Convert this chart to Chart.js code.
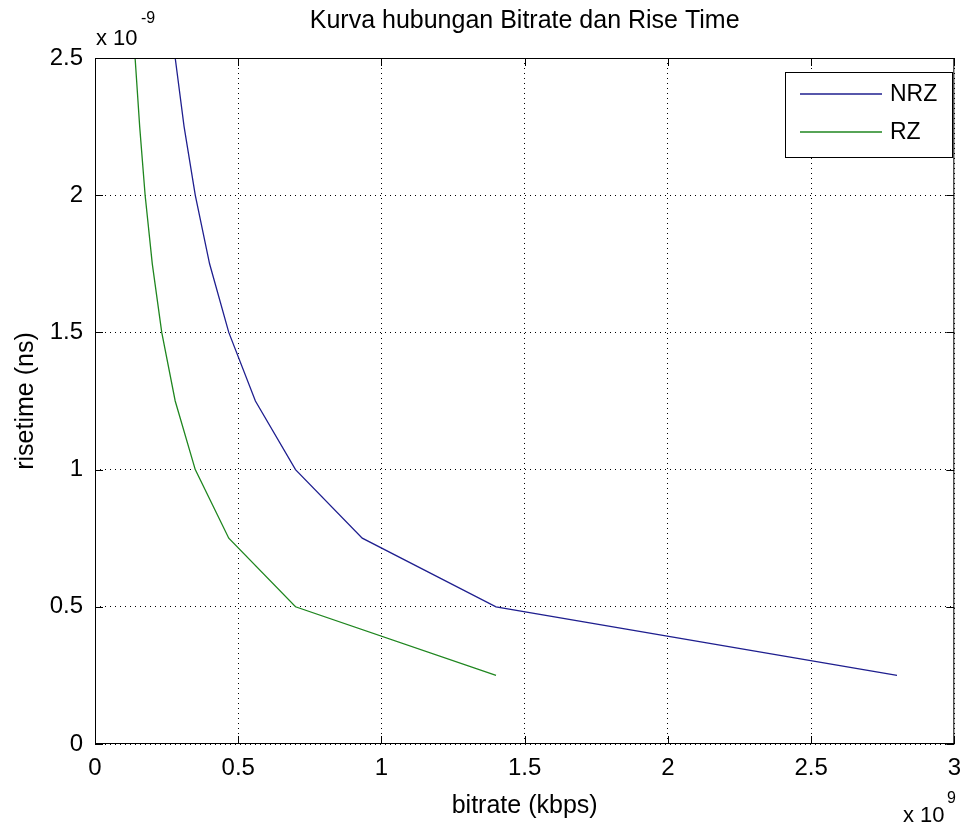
<!DOCTYPE html>
<html>
<head>
<meta charset="utf-8">
<script src="https://cdn.jsdelivr.net/npm/chart.js@4.4.0/dist/chart.umd.min.js"></script>
<style>
  html, body { margin: 0; padding: 0; background: #fff; }
  #wrap { width: 971px; height: 826px; }
</style>
</head>
<body>
<div id="wrap"><canvas id="c" width="971" height="826"></canvas></div>
<script>
// --- DATA (bitrate in x 10^9, risetime in x 10^-9) ---
const nrzBitrate = [2.8, 1.4, 0.933, 0.7, 0.56, 0.467, 0.4, 0.35, 0.311, 0.28];
const nrzRise    = [0.25, 0.5, 0.75, 1.0, 1.25, 1.5, 1.75, 2.0, 2.25, 2.5];
const rzBitrate  = [1.4, 0.7, 0.467, 0.35, 0.28, 0.233, 0.2, 0.175, 0.156, 0.14];
const rzRise     = [0.25, 0.5, 0.75, 1.0, 1.25, 1.5, 1.75, 2.0, 2.25, 2.5];
const xTicks = [0, 0.5, 1, 1.5, 2, 2.5, 3];
const yTicks = [0, 0.5, 1, 1.5, 2, 2.5];

const FONT = "'Liberation Sans', Arial, sans-serif";
const NRZ_COLOR = "#1f1f8f";
const RZ_COLOR = "#1f861f";

function pts(xs, ys) {
    return xs.map((x, i) => ({ x: x, y: ys[i] }));
}

// draws the matlab style frame, inside ticks, titles and legend
const matlabDecor = {
    id: "matlabDecor",
    afterDraw(chart) {
        const ctx = chart.ctx;
        const a = chart.chartArea;
        const xs = chart.scales.x;
        const ys = chart.scales.y;
        ctx.save();

        // frame
        ctx.strokeStyle = "#000";
        ctx.lineWidth = 1;
        ctx.setLineDash([]);
        ctx.strokeRect(a.left + 0.5, a.top + 0.5, a.right - a.left - 1, a.bottom - a.top - 1);

        // inside ticks
        const tl = 8;
        ctx.beginPath();
        xTicks.forEach(v => {
            const px = Math.round(xs.getPixelForValue(v)) + 0.5;
            ctx.moveTo(px, a.bottom); ctx.lineTo(px, a.bottom - tl);
            ctx.moveTo(px, a.top); ctx.lineTo(px, a.top + tl);
        });
        yTicks.forEach(v => {
            const py = Math.round(ys.getPixelForValue(v)) + 0.5;
            ctx.moveTo(a.left, py); ctx.lineTo(a.left + tl, py);
            ctx.moveTo(a.right, py); ctx.lineTo(a.right - tl, py);
        });
        ctx.stroke();

        ctx.fillStyle = "#000";
        // title
        ctx.font = "25px " + FONT;
        ctx.textAlign = "center";
        ctx.textBaseline = "alphabetic";
        ctx.fillText("Kurva hubungan Bitrate dan Rise Time", (a.left + a.right) / 2, 28);

        // axis titles
        ctx.fillText("bitrate (kbps)", (a.left + a.right) / 2, 813);
        ctx.save();
        ctx.translate(33, (a.top + a.bottom) / 2);
        ctx.rotate(-Math.PI / 2);
        ctx.fillText("risetime (ns)", 0, 0);
        ctx.restore();

        // exponent labels
        ctx.textAlign = "left";
        ctx.font = "22px " + FONT;
        ctx.fillText("x 10", 96, 45);
        ctx.font = "16px " + FONT;
        ctx.fillText("-9", 141, 23);
        ctx.font = "22px " + FONT;
        ctx.fillText("x 10", 903, 822);
        ctx.font = "16px " + FONT;
        ctx.fillText("9", 947, 803);

        // legend
        const lx = 785, ly = 72, lw = 167, lh = 85;
        ctx.fillStyle = "#fff";
        ctx.fillRect(lx, ly, lw, lh);
        ctx.strokeStyle = "#000";
        ctx.strokeRect(lx + 0.5, ly + 0.5, lw, lh);
        const items = [["NRZ", NRZ_COLOR, 94], ["RZ", RZ_COLOR, 132]];
        items.forEach(it => {
            ctx.strokeStyle = it[1];
            ctx.lineWidth = 1.3;
            ctx.beginPath();
            ctx.moveTo(800, it[2]); ctx.lineTo(882, it[2]);
            ctx.stroke();
            ctx.fillStyle = "#000";
            ctx.font = "23px " + FONT;
            ctx.textBaseline = "middle";
            ctx.fillText(it[0], 890, it[2] + 1);
        });
        ctx.restore();
    }
};

const ctx = document.getElementById("c").getContext("2d");
new Chart(ctx, {
    type: "scatter",
    data: {
        datasets: [
            {
                label: "NRZ",
                data: pts(nrzBitrate, nrzRise),
                showLine: true,
                borderColor: NRZ_COLOR,
                borderWidth: 1.3,
                pointRadius: 0,
                tension: 0
            },
            {
                label: "RZ",
                data: pts(rzBitrate, rzRise),
                showLine: true,
                borderColor: RZ_COLOR,
                borderWidth: 1.3,
                pointRadius: 0,
                tension: 0
            }
        ]
    },
    options: {
        responsive: false,
        animation: false,
        clip: 0,
        layout: { padding: { left: 0, top: 58, right: 7, bottom: 0 } },
        plugins: {
            legend: { display: false },
            tooltip: { enabled: false },
            title: { display: false }
        },
        scales: {
            x: {
                type: "linear",
                min: 0, max: 3,
                afterBuildTicks: s => { s.ticks = xTicks.map(v => ({ value: v })); },
                afterFit: s => { s.height = 82; },
                border: { display: false, dash: [1, 4] },
                grid: { color: "#000", lineWidth: 1, drawTicks: false },
                ticks: {
                    padding: 10,
                    color: "#000",
                    font: { family: FONT, size: 24 },
                    callback: v => String(v)
                }
            },
            y: {
                type: "linear",
                min: 0, max: 2.5,
                afterBuildTicks: s => { s.ticks = yTicks.map(v => ({ value: v })); },
                afterFit: s => { s.width = 95; },
                border: { display: false, dash: [1, 4] },
                grid: { color: "#000", lineWidth: 1, drawTicks: false },
                ticks: {
                    padding: 12,
                    color: "#000",
                    font: { family: FONT, size: 24 },
                    callback: v => String(v)
                }
            }
        }
    },
    plugins: [matlabDecor]
});
</script>
</body>
</html>
